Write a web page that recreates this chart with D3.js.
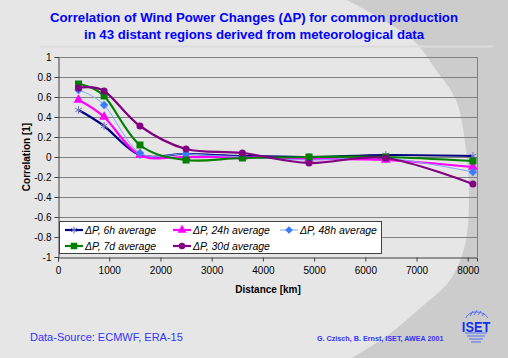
<!DOCTYPE html>
<html lang="en">
<head>
  <meta charset="UTF-8">
  <title>Correlation of Wind Power Changes</title>
  <script src="https://d3js.org/d3.v7.min.js"></script>
  <style>
    body { margin: 0; font-family: Arial, "Liberation Sans", sans-serif; }
    svg { display: block; }
    .tick text { font-size: 10px; fill: #000; }
  </style>
</head>
<body>
  <div id="chart"></div>
  <script>
    // data
    const distances = [400, 900, 1600, 2500, 3600, 4900, 6400, 8100];
    const corr6h  = [0.47, 0.31, 0.02, 0.03, 0.01, 0.00, 0.02, 0.01];
    const corr24h = [0.57, 0.40, 0.02, 0.00, 0.00, -0.02, -0.03, -0.10];
    const corr48h = [0.67, 0.52, 0.04, 0.03, 0.00, -0.03, -0.01, -0.15];
    const corr7d  = [0.73, 0.61, 0.12, -0.03, -0.01, 0.00, 0.00, -0.04];
    const corr30d = [0.69, 0.66, 0.31, 0.08, 0.04, -0.06, -0.01, -0.27];
    const seriesNames = ["ΔP, 6h average", "ΔP, 24h average", "ΔP, 48h average", "ΔP, 7d average", "ΔP, 30d average"];
    const xTicks = [0, 1000, 2000, 3000, 4000, 5000, 6000, 7000, 8000];
    const yTicks = [-1, -0.8, -0.6, -0.4, -0.2, 0, 0.2, 0.4, 0.6, 0.8, 1];

    const width = 508, height = 358;
    const plot = { left: 58, right: 477, top: 57, bottom: 257 };

    const series = [
      { name: seriesNames[0], values: corr6h,  color: "#000080", width: 2.2, marker: "asterisk", mcolor: "#7070c8" },
      { name: seriesNames[1], values: corr24h, color: "#ff00ff", width: 2.2, marker: "triangle", mcolor: "#ff00ff" },
      { name: seriesNames[2], values: corr48h, color: "#7fa6ff", width: 1,   marker: "diamond",  mcolor: "#3a7bff" },
      { name: seriesNames[3], values: corr7d,  color: "#008000", width: 2.2, marker: "square",   mcolor: "#008000" },
      { name: seriesNames[4], values: corr30d, color: "#800080", width: 2.2, marker: "circle",   mcolor: "#800080" }
    ];

    const svg = d3.select("#chart").append("svg")
      .attr("width", width)
      .attr("height", height);

    // background: light slide with darker rounded area on the right
    svg.append("rect").attr("width", width).attr("height", height).attr("fill", "#cccccc");
    const edge = [[347, 0], [413, 40], [436, 70], [456, 100], [466, 150],
                  [469, 195], [465, 245], [450, 280], [418, 310], [388, 335], [352, 358]];
    svg.append("path")
      .attr("d", d3.line().curve(d3.curveCatmullRom)(edge) + "L0,358L0,0Z")
      .attr("fill", "#e6e6e6");

    // title
    const title = svg.append("text")
      .attr("text-anchor", "middle")
      .attr("fill", "#0000ff").attr("font-weight", "bold").attr("font-size", 13.2);
    title.append("tspan").attr("x", 254).attr("y", 22).text("Correlation of Wind Power Changes (ΔP) for common production");
    title.append("tspan").attr("x", 254).attr("y", 39).text("in 43 distant regions derived from meteorological data");

    svg.append("line")
      .attr("x1", 40).attr("x2", 493).attr("y1", 46.5).attr("y2", 46.5)
      .attr("stroke", "#dcdcdc").attr("stroke-width", 2);

    // scales
    const x = d3.scaleLinear().domain([0, 8180]).range([plot.left, plot.right]);
    const y = d3.scaleLinear().domain([-1, 1]).range([plot.bottom, plot.top]);

    // gridlines
    svg.append("g").selectAll("line")
      .data(yTicks.filter(v => v > -1 && v < 1))
      .join("line")
      .attr("x1", plot.left).attr("x2", plot.right)
      .attr("y1", d => Math.round(y(d)) + 0.5).attr("y2", d => Math.round(y(d)) + 0.5)
      .attr("stroke", "#808080");

    // plot border
    svg.append("path")
      .attr("d", `M${plot.left},${plot.top + 0.5}H${plot.right + 0.5}V${plot.bottom}`)
      .attr("fill", "none").attr("stroke", "#808080");

    // axes
    const xAxis = d3.axisBottom(x).tickValues(xTicks).tickSize(4).tickPadding(5).tickFormat(d => String(d));
    const yAxis = d3.axisLeft(y).tickValues(yTicks).tickSize(4).tickPadding(3).tickFormat(d => String(d));

    const gx = svg.append("g").attr("transform", `translate(0,${plot.bottom + 0.5})`).call(xAxis);
    const gy = svg.append("g").attr("transform", `translate(${plot.left + 0.5},0)`).call(yAxis);
    [gx, gy].forEach(g => {
      g.select(".domain").attr("stroke", "#404040");
      g.selectAll(".tick line").attr("stroke", "#404040");
      g.selectAll("text").attr("font-family", "Arial, 'Liberation Sans', sans-serif");
    });

    svg.append("text")
      .attr("x", 268).attr("y", 293).attr("text-anchor", "middle")
      .attr("font-size", 10).attr("font-weight", "bold").text("Distance [km]");
    svg.append("text")
      .attr("transform", `translate(30,${y(0)}) rotate(-90)`).attr("text-anchor", "middle")
      .attr("font-size", 10).attr("font-weight", "bold").text("Correlation [1]");

    // markers
    function drawMarker(g, type, color, size) {
      if (type === "asterisk") {
        g.append("path").attr("d", d3.symbol(d3.symbolAsterisk, size * 6)())
          .attr("fill", "none").attr("stroke", color).attr("stroke-width", 1);
      } else if (type === "diamond") {
        g.append("path").attr("d", d3.symbol(d3.symbolSquare, size * 5)())
          .attr("transform", "rotate(45)").attr("fill", color);
      } else if (type === "triangle") {
        g.append("path").attr("d", d3.symbol(d3.symbolTriangle, size * 6)()).attr("fill", color);
      } else if (type === "square") {
        g.append("path").attr("d", d3.symbol(d3.symbolSquare, size * 7)()).attr("fill", color);
      } else {
        g.append("path").attr("d", d3.symbol(d3.symbolCircle, size * 5.5)()).attr("fill", color);
      }
    }

    const line = d3.line()
      .x((d, i) => x(distances[i]))
      .y(d => y(d))
      .curve(d3.curveCardinal.tension(0));

    series.forEach(s => {
      const g = svg.append("g");
      g.append("path")
        .attr("d", line(s.values))
        .attr("fill", "none")
        .attr("stroke", s.color)
        .attr("stroke-width", s.width)
        .attr("stroke-linejoin", "round");
      s.values.forEach((v, i) => {
        const m = g.append("g").attr("transform", `translate(${x(distances[i])},${y(v)})`);
        drawMarker(m, s.marker, s.mcolor, 7);
      });
    });

    // legend
    const legend = svg.append("g");
    legend.append("rect")
      .attr("x", 59.5).attr("y", 221.5).attr("width", 322).attr("height", 32)
      .attr("fill", "#ffffff").attr("stroke", "#404040");
    const legendPos = [[65, 230], [173, 230], [280, 230], [65, 246], [173, 246]];
    series.forEach((s, i) => {
      const [lx, ly] = legendPos[i];
      const item = legend.append("g").attr("transform", `translate(${lx},${ly})`);
      item.append("line").attr("x1", 0).attr("x2", 18)
        .attr("stroke", s.color).attr("stroke-width", s.width);
      const m = item.append("g").attr("transform", "translate(9,0)");
      drawMarker(m, s.marker, s.mcolor, 6);
      item.append("text").attr("x", 20).attr("y", 3.8)
        .attr("font-size", 10.5).attr("font-style", "italic").text(s.name);
    });

    // footer
    svg.append("text").attr("x", 30).attr("y", 341)
      .attr("font-size", 11).attr("fill", "#3333ff").text("Data-Source: ECMWF, ERA-15");
    svg.append("text").attr("x", 317).attr("y", 341)
      .attr("font-size", 7.2).attr("font-weight", "bold").attr("fill", "#3333ff")
      .text("G. Czisch, B. Ernst, ISET, AWEA 2001");

    // ISET logo
    const logo = svg.append("g").attr("transform", "translate(476,328)");
    logo.append("path")
      .attr("d", "M-10,-10 C-8,-17 6,-19 12,-10 M-6,-12 L-3,-17 M-2,-13 L1,-18 M2,-13 L5,-17 M6,-12 L8,-15")
      .attr("fill", "none").attr("stroke", "#3355ff").attr("stroke-width", 0.8);
    [5, 8, 11, 14].forEach((dy, i) => {
      logo.append("line").attr("x1", -11 + i * 2).attr("x2", 11 - i * 2)
        .attr("y1", dy).attr("y2", dy).attr("stroke", "#3355ff").attr("stroke-width", 0.8);
    });
    logo.append("text").attr("text-anchor", "middle").attr("y", 4)
      .attr("font-size", 15).attr("font-weight", "bold").attr("fill", "#1133ee")
      .attr("transform", "scale(0.85,1)").text("ISET");
  </script>
</body>
</html>
